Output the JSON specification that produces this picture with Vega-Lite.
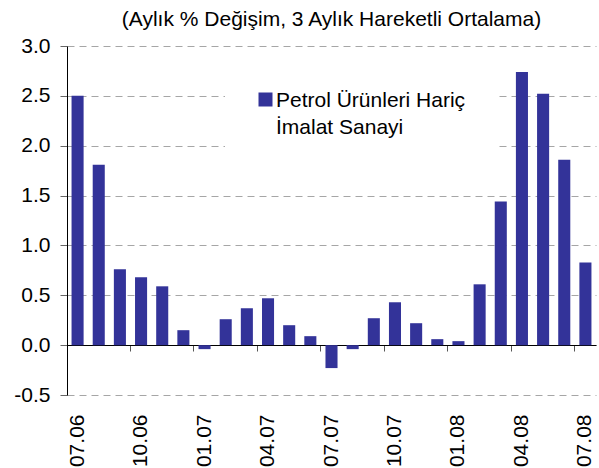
{
  "$schema": "https://vega.github.io/schema/vega-lite/v6.json",
  "autosize": "none",
  "width": 529,
  "height": 349,
  "padding": {"left": 67, "top": 46, "right": 3, "bottom": 73},
  "background": "white",
  "config": {
    "font": "Liberation Sans",
    "view": {"stroke": null},
    "style": {"guide-label": {"lineHeight": 27}}
  },
  "title": {
    "text": "(Aylık % Değişim, 3 Aylık Hareketli Ortalama)",
    "fontSize": 21,
    "fontWeight": "normal",
    "font": "Liberation Sans",
    "color": "black",
    "anchor": "middle",
    "frame": "group",
    "baseline": "alphabetic",
    "offset": -12
  },
  "data": {
    "values": [
      {"month": "07.06", "value": 2.50, "series": "Petrol Ürünleri Hariç\nİmalat Sanayi"},
      {"month": "08.06", "value": 1.81, "series": "Petrol Ürünleri Hariç\nİmalat Sanayi"},
      {"month": "09.06", "value": 0.76, "series": "Petrol Ürünleri Hariç\nİmalat Sanayi"},
      {"month": "10.06", "value": 0.68, "series": "Petrol Ürünleri Hariç\nİmalat Sanayi"},
      {"month": "11.06", "value": 0.59, "series": "Petrol Ürünleri Hariç\nİmalat Sanayi"},
      {"month": "12.06", "value": 0.15, "series": "Petrol Ürünleri Hariç\nİmalat Sanayi"},
      {"month": "01.07", "value": -0.04, "series": "Petrol Ürünleri Hariç\nİmalat Sanayi"},
      {"month": "02.07", "value": 0.26, "series": "Petrol Ürünleri Hariç\nİmalat Sanayi"},
      {"month": "03.07", "value": 0.37, "series": "Petrol Ürünleri Hariç\nİmalat Sanayi"},
      {"month": "04.07", "value": 0.47, "series": "Petrol Ürünleri Hariç\nİmalat Sanayi"},
      {"month": "05.07", "value": 0.20, "series": "Petrol Ürünleri Hariç\nİmalat Sanayi"},
      {"month": "06.07", "value": 0.09, "series": "Petrol Ürünleri Hariç\nİmalat Sanayi"},
      {"month": "07.07", "value": -0.23, "series": "Petrol Ürünleri Hariç\nİmalat Sanayi"},
      {"month": "08.07", "value": -0.04, "series": "Petrol Ürünleri Hariç\nİmalat Sanayi"},
      {"month": "09.07", "value": 0.27, "series": "Petrol Ürünleri Hariç\nİmalat Sanayi"},
      {"month": "10.07", "value": 0.43, "series": "Petrol Ürünleri Hariç\nİmalat Sanayi"},
      {"month": "11.07", "value": 0.22, "series": "Petrol Ürünleri Hariç\nİmalat Sanayi"},
      {"month": "12.07", "value": 0.06, "series": "Petrol Ürünleri Hariç\nİmalat Sanayi"},
      {"month": "01.08", "value": 0.04, "series": "Petrol Ürünleri Hariç\nİmalat Sanayi"},
      {"month": "02.08", "value": 0.61, "series": "Petrol Ürünleri Hariç\nİmalat Sanayi"},
      {"month": "03.08", "value": 1.44, "series": "Petrol Ürünleri Hariç\nİmalat Sanayi"},
      {"month": "04.08", "value": 2.74, "series": "Petrol Ürünleri Hariç\nİmalat Sanayi"},
      {"month": "05.08", "value": 2.52, "series": "Petrol Ürünleri Hariç\nİmalat Sanayi"},
      {"month": "06.08", "value": 1.86, "series": "Petrol Ürünleri Hariç\nİmalat Sanayi"},
      {"month": "07.08", "value": 0.83, "series": "Petrol Ürünleri Hariç\nİmalat Sanayi"}
    ]
  },
  "mark": {"type": "bar", "orient": "vertical"},
  "encoding": {
    "x": {
      "field": "month",
      "type": "ordinal",
      "sort": null,
      "scale": {"paddingInner": 0.43, "paddingOuter": 0.215},
      "axis": {
        "title": null,
        "values": ["07.06", "10.06", "01.07", "04.07", "07.07", "10.07", "01.08", "04.08", "07.08"],
        "bandPosition": -0.377,
        "offset": -50,
        "domainColor": "black",
        "domainWidth": 1,
        "tickColor": "#555555",
        "tickSize": 6,
        "tickWidth": 1,
        "labelAngle": 270,
        "labelFontSize": 21,
        "labelColor": "black",
        "labelPadding": 63,
        "grid": false
      }
    },
    "y": {
      "field": "value",
      "type": "quantitative",
      "scale": {"domain": [-0.5, 3.0], "nice": false, "zero": false},
      "axis": {
        "title": null,
        "values": [-0.5, 0, 0.5, 1.0, 1.5, 2.0, 2.5, 3.0],
        "labelExpr": "(datum.value < 0 ? '-' : '') + format(abs(datum.value), '.1f')",
        "labelFontSize": 21,
        "labelColor": "black",
        "labelPadding": 10,
        "tickSize": 7,
        "tickColor": "#666666",
        "domainColor": "black",
        "domainWidth": 1,
        "grid": true,
        "gridColor": "#a6a6a6",
        "gridDash": [7, 5],
        "gridWidth": 1
      }
    },
    "color": {
      "field": "series",
      "type": "nominal",
      "scale": {"range": ["#333399"]},
      "legend": {
        "title": null,
        "orient": "none",
        "legendX": 158,
        "legendY": 20,
        "fillColor": "white",
        "padding": 30,
        "symbolType": "M-1,-2H1V0H-1Z",
        "symbolSize": 196,
        "symbolStrokeWidth": 0,
        "symbolOpacity": 1,
        "labelFontSize": 21,
        "labelColor": "black",
        "labelBaseline": "alphabetic",
        "labelOffset": 0,
        "labelLimit": 0,
        "labelExpr": "split(datum.label, '\\n')"
      }
    }
  }
}
